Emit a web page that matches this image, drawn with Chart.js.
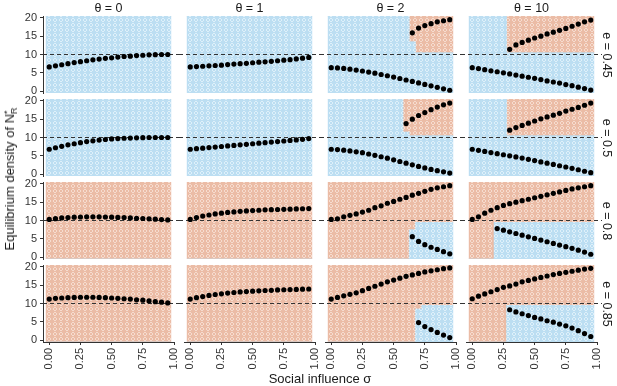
<!DOCTYPE html>
<html>
<head>
<meta charset="utf-8">
<script src="https://cdn.jsdelivr.net/npm/chart.js@4.4.1/dist/chart.umd.min.js"></script>
<style>
  body { margin: 0; background: #fff; font-family: "Liberation Sans", Arial, sans-serif; }
  #wrap { position: relative; width: 617px; height: 386px; overflow: hidden; }
  .panel { position: absolute; }
  .lbl { position: absolute; color: #1a1a1a; white-space: nowrap; transform: translate(-50%, -50%); }
</style>
</head>
<body>
<div id="wrap"></div>
<script>
// grid of sigma values (x) shared by every panel
const sigma = [0, 0.05, 0.1, 0.15, 0.2, 0.25, 0.3, 0.35, 0.4, 0.45, 0.5, 0.55, 0.6, 0.65, 0.7, 0.75, 0.8, 0.85, 0.9, 0.95];
const thetaLabels = ['θ = 0', 'θ = 1', 'θ = 2', 'θ = 10'];
const eLabels = ['e = 0.45', 'e = 0.5', 'e = 0.8', 'e = 0.85'];
const xTicks = [0, 0.25, 0.5, 0.75, 1];
const yTicks = [0, 5, 10, 15, 20];
const refLevel = 10;

// e = 0.45 : low / high equilibria for theta 0, 1, 2, 10
const lowE045 = [
  [6.6, 6.9, 7.2, 7.5, 7.8, 8.05, 8.3, 8.55, 8.75, 8.95, 9.1, 9.3, 9.45, 9.55, 9.7, 9.8, 9.9, 9.95, 10.0, 10.0],
  [6.6, 6.7, 6.8, 6.9, 7.0, 7.1, 7.25, 7.4, 7.5, 7.6, 7.75, 7.9, 8.0, 8.15, 8.3, 8.45, 8.6, 8.8, 9.0, 9.2],
  [6.4, 6.35, 6.2, 6.0, 5.75, 5.5, 5.2, 4.9, 4.55, 4.2, 3.85, 3.45, 3.05, 2.65, 2.25, 1.85, 1.45, 1.05, 0.65, 0.25],
  [6.4, 6.15, 5.85, 5.55, 5.3, 5.0, 4.7, 4.4, 4.1, 3.8, 3.5, 3.15, 2.8, 2.5, 2.2, 1.8, 1.5, 1.1, 0.7, 0.3]
];
const highE045 = [
  [],
  [],
  [null, null, null, null, null, null, null, null, null, null, null, null, null, 15.9, 17.2, 17.9, 18.4, 18.9, 19.2, 19.5],
  [null, null, null, null, null, null, 11.4, 12.6, 13.3, 13.9, 14.5, 15.0, 15.6, 16.1, 16.6, 17.1, 17.7, 18.3, 18.9, 19.4]
];
// basin boundary: cells below are blue, above are orange
const splitE045 = [
  [20.5, 20.5, 20.5, 20.5, 20.5, 20.5, 20.5, 20.5, 20.5, 20.5, 20.5, 20.5, 20.5, 20.5, 20.5, 20.5, 20.5, 20.5, 20.5, 20.5],
  [20.5, 20.5, 20.5, 20.5, 20.5, 20.5, 20.5, 20.5, 20.5, 20.5, 20.5, 20.5, 20.5, 20.5, 20.5, 20.5, 20.5, 20.5, 20.5, 20.5],
  [20.5, 20.5, 20.5, 20.5, 20.5, 20.5, 20.5, 20.5, 20.5, 20.5, 20.5, 20.5, 20.5, 13.5, 10.5, 10.5, 10.5, 10.5, 10.5, 10.5],
  [20.5, 20.5, 20.5, 20.5, 20.5, 20.5, 10.5, 10.5, 10.5, 10.5, 10.5, 10.5, 10.5, 10.5, 10.5, 10.5, 10.5, 10.5, 10.5, 10.5]
];

// e = 0.5
const lowE05 = [
  [6.8, 7.2, 7.6, 8.0, 8.3, 8.6, 8.9, 9.1, 9.3, 9.45, 9.6, 9.7, 9.8, 9.85, 9.9, 9.95, 10.0, 10.0, 10.0, 10.0],
  [6.8, 6.95, 7.1, 7.25, 7.4, 7.55, 7.7, 7.85, 8.0, 8.15, 8.3, 8.45, 8.6, 8.75, 8.9, 9.05, 9.2, 9.35, 9.5, 9.7],
  [6.8, 6.7, 6.55, 6.35, 6.1, 5.85, 5.5, 5.15, 4.75, 4.35, 3.9, 3.45, 3.0, 2.55, 2.1, 1.7, 1.3, 0.95, 0.65, 0.3],
  [6.8, 6.5, 6.2, 5.9, 5.6, 5.3, 5.0, 4.7, 4.4, 4.05, 3.7, 3.35, 3.0, 2.65, 2.3, 1.95, 1.6, 1.2, 0.8, 0.4]
];
const highE05 = [
  [],
  [],
  [null, null, null, null, null, null, null, null, null, null, null, null, 13.8, 15.0, 16.0, 16.8, 17.6, 18.3, 18.9, 19.4],
  [null, null, null, null, null, null, 12.0, 12.7, 13.3, 13.9, 14.5, 15.1, 15.6, 16.1, 16.6, 17.2, 17.7, 18.2, 18.8, 19.4]
];
const splitE05 = [
  [20.5, 20.5, 20.5, 20.5, 20.5, 20.5, 20.5, 20.5, 20.5, 20.5, 20.5, 20.5, 20.5, 20.5, 20.5, 20.5, 20.5, 20.5, 20.5, 20.5],
  [20.5, 20.5, 20.5, 20.5, 20.5, 20.5, 20.5, 20.5, 20.5, 20.5, 20.5, 20.5, 20.5, 20.5, 20.5, 20.5, 20.5, 20.5, 20.5, 20.5],
  [20.5, 20.5, 20.5, 20.5, 20.5, 20.5, 20.5, 20.5, 20.5, 20.5, 20.5, 20.5, 11.5, 10.5, 10.5, 10.5, 10.5, 10.5, 10.5, 10.5],
  [20.5, 20.5, 20.5, 20.5, 20.5, 20.5, 10.5, 10.5, 10.5, 10.5, 10.5, 10.5, 10.5, 10.5, 10.5, 10.5, 10.5, 10.5, 10.5, 10.5]
];

// e = 0.8
const lowE08 = [
  [],
  [],
  [null, null, null, null, null, null, null, null, null, null, null, null, null, 5.6, 4.3, 3.4, 2.7, 2.1, 1.5, 0.9],
  [null, null, null, null, 7.8, 7.35, 6.9, 6.45, 6.0, 5.55, 5.1, 4.65, 4.2, 3.75, 3.3, 2.85, 2.4, 1.9, 1.4, 0.8]
];
const highE08 = [
  [10.3, 10.5, 10.7, 10.8, 10.9, 10.95, 11.0, 11.0, 11.0, 10.95, 10.9, 10.85, 10.8, 10.7, 10.6, 10.55, 10.45, 10.35, 10.25, 10.15],
  [10.3, 10.8, 11.2, 11.5, 11.8, 12.0, 12.2, 12.35, 12.5, 12.6, 12.7, 12.8, 12.9, 12.95, 13.0, 13.05, 13.1, 13.15, 13.2, 13.25],
  [10.3, 10.45, 11.0, 11.4, 11.8, 12.3, 12.8, 13.5, 14.0, 14.7, 15.2, 15.8, 16.3, 16.9, 17.4, 17.95, 18.5, 18.9, 19.2, 19.5],
  [10.3, 11.0, 12.0, 12.8, 13.5, 14.1, 14.6, 15.0, 15.4, 15.8, 16.2, 16.6, 17.0, 17.4, 17.8, 18.2, 18.6, 18.9, 19.2, 19.5]
];
const splitE08 = [
  [-0.5, -0.5, -0.5, -0.5, -0.5, -0.5, -0.5, -0.5, -0.5, -0.5, -0.5, -0.5, -0.5, -0.5, -0.5, -0.5, -0.5, -0.5, -0.5, -0.5],
  [-0.5, -0.5, -0.5, -0.5, -0.5, -0.5, -0.5, -0.5, -0.5, -0.5, -0.5, -0.5, -0.5, -0.5, -0.5, -0.5, -0.5, -0.5, -0.5, -0.5],
  [-0.5, -0.5, -0.5, -0.5, -0.5, -0.5, -0.5, -0.5, -0.5, -0.5, -0.5, -0.5, -0.5, 7.5, 9.5, 9.5, 9.5, 9.5, 9.5, 9.5],
  [-0.5, -0.5, -0.5, -0.5, 9.5, 9.5, 9.5, 9.5, 9.5, 9.5, 9.5, 9.5, 9.5, 9.5, 9.5, 9.5, 9.5, 9.5, 9.5, 9.5]
];

// e = 0.85
const lowE085 = [
  [],
  [],
  [null, null, null, null, null, null, null, null, null, null, null, null, null, null, 4.8, 3.7, 2.9, 2.1, 1.4, 0.7],
  [null, null, null, null, null, null, 8.3, 7.7, 7.2, 6.7, 6.2, 5.8, 5.3, 4.9, 4.4, 3.9, 3.3, 2.6, 1.8, 1.0]
];
const highE085 = [
  [11.2, 11.4, 11.5, 11.6, 11.65, 11.7, 11.7, 11.7, 11.65, 11.6, 11.5, 11.4, 11.3, 11.2, 11.0, 10.9, 10.7, 10.5, 10.35, 10.15],
  [11.2, 11.6, 11.9, 12.2, 12.45, 12.65, 12.85, 13.0, 13.15, 13.25, 13.35, 13.45, 13.55, 13.6, 13.7, 13.75, 13.8, 13.85, 13.9, 13.95],
  [11.2, 11.65, 12.1, 12.5, 12.9, 13.5, 14.1, 14.7, 15.3, 15.9, 16.4, 16.9, 17.4, 17.8, 18.2, 18.6, 18.9, 19.2, 19.5, 19.7],
  [11.3, 12.0, 12.6, 13.2, 13.8, 14.4, 14.8, 15.3, 15.9, 16.3, 16.7, 17.1, 17.5, 17.9, 18.2, 18.5, 18.8, 19.1, 19.4, 19.6]
];
const splitE085 = [
  [-0.5, -0.5, -0.5, -0.5, -0.5, -0.5, -0.5, -0.5, -0.5, -0.5, -0.5, -0.5, -0.5, -0.5, -0.5, -0.5, -0.5, -0.5, -0.5, -0.5],
  [-0.5, -0.5, -0.5, -0.5, -0.5, -0.5, -0.5, -0.5, -0.5, -0.5, -0.5, -0.5, -0.5, -0.5, -0.5, -0.5, -0.5, -0.5, -0.5, -0.5],
  [-0.5, -0.5, -0.5, -0.5, -0.5, -0.5, -0.5, -0.5, -0.5, -0.5, -0.5, -0.5, -0.5, -0.5, 8.5, 9.5, 9.5, 9.5, 9.5, 9.5],
  [-0.5, -0.5, -0.5, -0.5, -0.5, -0.5, 9.5, 9.5, 9.5, 9.5, 9.5, 9.5, 9.5, 9.5, 9.5, 9.5, 9.5, 9.5, 9.5, 9.5]
];

const rows = [
  { low: lowE045, high: highE045, split: splitE045 },
  { low: lowE05, high: highE05, split: splitE05 },
  { low: lowE08, high: highE08, split: splitE08 },
  { low: lowE085, high: highE085, split: splitE085 }
];

// layout (px)
const colLeft = [43, 184, 325, 466];
const rowTop = [16, 99, 182, 265];
const panelW = 131, panelH = 77;
const pad = 8, yAxisW = 30, xAxisH = 40;
const Y_MIN = -0.5, Y_MAX = 20.5;

const tickFont = { family: 'Liberation Sans', size: 11 };
const wrap = document.getElementById('wrap');

// small textured fills, like the raster in the original
function makePattern(base, light) {
  const c = document.createElement('canvas');
  c.width = 6; c.height = 5;
  const g = c.getContext('2d');
  g.fillStyle = base;
  g.fillRect(0, 0, 6, 5);
  g.fillStyle = light;
  [[1, 0], [2, 0], [0, 1], [3, 1], [0, 2], [3, 2], [1, 3], [2, 3]].forEach(([x, y]) => g.fillRect(x, y, 1, 1));
  return g.createPattern(c, 'repeat');
}
const bluePat = makePattern('#bcdef2', '#def0fa');
const orangePat = makePattern('#ebbca6', '#f6dccf');

// dashed reference line, drawn after the tiles and before the dots;
// it runs a little past the panel on inner sides so rows read as one line
const refLine = {
  id: 'refLine',
  afterDatasetDraw(chart, args, opts) {
    if (args.index !== 2) return;
    const { ctx, chartArea, scales } = chart;
    const y = scales.y.getPixelForValue(refLevel);
    ctx.save();
    ctx.strokeStyle = '#333';
    ctx.lineWidth = 1.1;
    ctx.setLineDash([4, 3]);
    ctx.beginPath();
    ctx.moveTo(chartArea.left - opts.extLeft, y);
    ctx.lineTo(chartArea.right + opts.extRight, y);
    ctx.stroke();
    ctx.restore();
  }
};

function points(arr) {
  const out = [];
  arr.forEach((v, i) => { if (v !== null && v !== undefined) out.push({ x: sigma[i], y: v }); });
  return out;
}

function makePanel(r, c) {
  const showX = r === 3, showY = c === 0;
  const left = colLeft[c] - pad - (showY ? yAxisW : 0);
  const top = rowTop[r] - pad;
  const w = panelW + 2 * pad + (showY ? yAxisW : 0);
  const h = panelH + 2 * pad + (showX ? xAxisH : 0);

  const div = document.createElement('div');
  div.className = 'panel';
  div.style.left = left + 'px';
  div.style.top = top + 'px';
  const cv = document.createElement('canvas');
  cv.width = w; cv.height = h;
  cv.style.width = w + 'px'; cv.style.height = h + 'px';
  div.appendChild(cv);
  wrap.appendChild(div);

  const row = rows[r];
  const split = row.split[c];

  new Chart(cv, {
    type: 'scatter',
    data: {
      datasets: [
        { data: points(row.low[c]), backgroundColor: '#000', pointRadius: 2.6, pointBorderWidth: 0 },
        { data: points(row.high[c]), backgroundColor: '#000', pointRadius: 2.6, pointBorderWidth: 0 },
        {
          type: 'bar', grouped: false, barPercentage: 1, categoryPercentage: 1, borderWidth: 0,
          backgroundColor: bluePat,
          data: sigma.map((s, i) => ({ x: s, y: [Y_MIN, split[i]] }))
        },
        {
          type: 'bar', grouped: false, barPercentage: 1, categoryPercentage: 1, borderWidth: 0,
          backgroundColor: orangePat,
          data: sigma.map((s, i) => ({ x: s, y: [split[i], Y_MAX] }))
        }
      ]
    },
    options: {
      responsive: false,
      animation: false,
      events: [],
      layout: { padding: pad },
      plugins: {
        legend: { display: false },
        tooltip: { enabled: false },
        refLine: { extLeft: c > 0 ? 5 : 0, extRight: 5 }
      },
      scales: {
        x: {
          type: 'linear', min: -0.05, max: 1.0, offset: false,
          display: showX,
          afterBuildTicks: s => { s.ticks = xTicks.map(v => ({ value: v })); },
          afterFit: s => { s.height = showX ? xAxisH : 0; s.paddingLeft = 0; s.paddingRight = 0; },
          ticks: {
            autoSkip: false, minRotation: 90, maxRotation: 90, padding: 3,
            font: tickFont, color: '#333',
            callback: v => Number(v).toFixed(2)
          },
          grid: { offset: false, drawOnChartArea: false, drawTicks: true, tickLength: 3, color: '#333' },
          border: { display: true, color: '#333', width: 1 }
        },
        y: {
          type: 'linear', min: Y_MIN, max: Y_MAX,
          display: showY,
          afterBuildTicks: s => { s.ticks = yTicks.map(v => ({ value: v })); },
          afterFit: s => { s.width = showY ? yAxisW : 0; s.paddingTop = 0; s.paddingBottom = 0; },
          ticks: { padding: 3, font: tickFont, color: '#333' },
          grid: { drawOnChartArea: false, drawTicks: true, tickLength: 3, color: '#333' },
          border: { display: true, color: '#333', width: 1 }
        }
      }
    },
    plugins: [refLine]
  });
}

for (let r = 0; r < 4; r++) {
  for (let c = 0; c < 4; c++) makePanel(r, c);
}

function addLabel(html, x, y, size, rotate) {
  const d = document.createElement('div');
  d.className = 'lbl';
  d.style.left = x + 'px';
  d.style.top = y + 'px';
  d.style.fontSize = size + 'px';
  if (rotate) d.style.transform = 'translate(-50%, -50%) rotate(' + rotate + 'deg)';
  d.innerHTML = html;
  wrap.appendChild(d);
}

thetaLabels.forEach((t, c) => addLabel(t, colLeft[c] + panelW / 2, 8, 12.5));
eLabels.forEach((t, r) => addLabel(t, 607, rowTop[r] + panelH / 2, 12.5, 90));
addLabel('Social influence σ', (colLeft[0] + colLeft[3] + panelW) / 2, 378, 13);
addLabel('Equilibrium density of N<span style="display:inline-block;vertical-align:-3px;line-height:7px;font-size:9px;text-align:left"><span style="display:block">*</span><span style="display:block">R</span></span>',
  10, (rowTop[0] + rowTop[3] + panelH) / 2, 13, -90);
</script>
</body>
</html>
